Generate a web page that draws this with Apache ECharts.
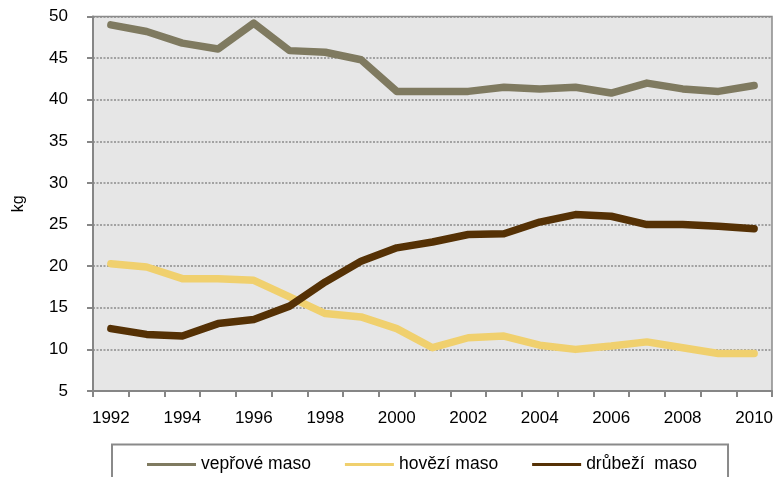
<!DOCTYPE html>
<html>
<head>
<meta charset="utf-8">
<script src="https://cdn.jsdelivr.net/npm/echarts@6/dist/echarts.min.js"></script>
<style>
html,body{margin:0;padding:0;background:#fff;}
#chart{width:777px;height:477px;}
</style>
</head>
<body>
<div id="chart"></div>
<script>
const years = ['1992','1993','1994','1995','1996','1997','1998','1999','2000','2001','2002','2003','2004','2005','2006','2007','2008','2009','2010'];
const yTicks = [5, 50, 5]; // min, max, interval
const porkName = 'vepřové maso';
const beefName = 'hovězí maso';
const poultryName = 'drůbeží  maso';
const pork = [49.0, 48.2, 46.8, 46.1, 49.2, 45.9, 45.7, 44.8, 41.0, 41.0, 41.0, 41.5, 41.3, 41.5, 40.8, 42.0, 41.3, 41.0, 41.7];
const beef = [20.3, 19.9, 18.5, 18.5, 18.3, 16.3, 14.3, 13.9, 12.5, 10.2, 11.4, 11.6, 10.5, 10.0, 10.4, 10.9, 10.2, 9.5, 9.5];
const poultry = [12.5, 11.8, 11.6, 13.1, 13.6, 15.2, 18.1, 20.6, 22.2, 22.9, 23.8, 23.9, 25.3, 26.2, 26.0, 25.0, 25.0, 24.8, 24.5];

const font = '"Liberation Sans", Arial, sans-serif';
const chart = echarts.init(document.getElementById('chart'), null, {renderer: 'canvas'});
function lineSeries(name, data, color) {
  return {
    name: name, type: 'line', data: data, symbol: 'none', smooth: false,
    lineStyle: {color: color, width: 7.5, cap: 'round', join: 'round'},
    itemStyle: {color: color},
    emphasis: {disabled: true}
  };
}
chart.setOption({
  animation: false,
  backgroundColor: '#ffffff',
  textStyle: {fontFamily: font},
  grid: {
    left: 93, right: 5, top: 16.5, bottom: 86,
    show: true, backgroundColor: '#e6e6e6', borderColor: '#8a8a8a', borderWidth: 1.5
  },
  legend: {
    left: 112, top: 444.5,
    padding: [11, 31, 30, 35],
    itemGap: 34, itemWidth: 49, itemHeight: 3,
    icon: 'rect',
    borderColor: '#8a8a8a', borderWidth: 2,
    textStyle: {fontFamily: font, fontSize: 17.5, color: '#000', padding: [2, 0, 0, 0]},
    data: [porkName, beefName, poultryName]
  },
  xAxis: {
    type: 'category', data: years, boundaryGap: true,
    axisLine: {lineStyle: {color: '#868686', width: 2}},
    axisTick: {show: true, interval: 0, length: 6, lineStyle: {color: '#868686', width: 2}},
    axisLabel: {interval: 1, margin: 19, fontSize: 17, color: '#000', fontFamily: font},
    splitLine: {show: false}
  },
  yAxis: {
    type: 'value', min: yTicks[0], max: yTicks[1], interval: yTicks[2],
    name: 'kg', nameLocation: 'middle', nameRotate: 90, nameGap: 66,
    nameTextStyle: {fontSize: 16, color: '#000', fontFamily: font},
    axisLine: {show: true, lineStyle: {color: '#868686', width: 2}},
    axisTick: {show: true, length: 6, lineStyle: {color: '#868686', width: 2}},
    axisLabel: {margin: 25, fontSize: 17, color: '#000', fontFamily: font},
    splitLine: {show: true, lineStyle: {color: '#8c8c8c', width: 1.5, type: [2, 1.5]}}
  },
  series: [
    lineSeries(porkName, pork, '#7f7a60'),
    lineSeries(beefName, beef, '#f0d06e'),
    lineSeries(poultryName, poultry, '#553105')
  ]
});
</script>
</body>
</html>
